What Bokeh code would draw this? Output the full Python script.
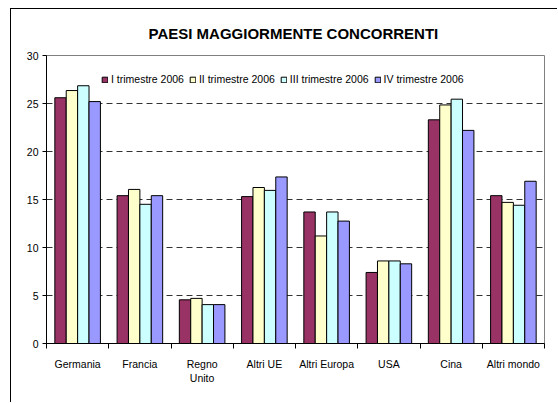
from bokeh.plotting import figure
from bokeh.models import (Range1d, LinearAxis, FixedTicker, Grid, Legend, LegendItem,
                          ColumnDataSource)
from bokeh.embed import file_html
from bokeh.resources import INLINE

categories = ["Germania", "Francia", "Regno\nUnito", "Altri UE", "Altri Europa", "USA", "Cina", "Altri mondo"]
series_names = ["I trimestre 2006", "II trimestre 2006", "III trimestre 2006", "IV trimestre 2006"]
q1 = [25.6, 15.4, 4.55, 15.3, 13.7, 7.4, 23.3, 15.4]
q2 = [26.35, 16.05, 4.7, 16.25, 11.2, 8.6, 24.85, 14.7]
q3 = [26.85, 14.5, 4.05, 15.95, 13.7, 8.6, 25.45, 14.4]
q4 = [25.2, 15.4, 4.05, 17.35, 12.75, 8.3, 22.2, 16.9]
colors = ["#993366", "#FFFFCC", "#CCFFFF", "#9999FF"]
y_ticks = [0, 5, 10, 15, 20, 25, 30]

FONT = "Liberation Sans"

p = figure(width=547, height=394, x_range=Range1d(0, len(categories)), y_range=Range1d(0, 30),
           output_backend="svg", toolbar_location=None, x_axis_location=None,
           min_border_left=35, min_border_right=14, min_border_top=46, min_border_bottom=60)
p.styles = {"margin-left": "10px", "margin-top": "8px",
            "border-left": "1px solid black", "border-top": "1px solid black"}

p.title.text = "PAESI  MAGGIORMENTE CONCORRENTI"
p.title.align = "center"
p.title.offset = -3
p.title.text_font = FONT
p.title.text_font_size = "15px"
p.title.text_font_style = "bold"
p.title.text_color = "black"
p.title.standoff = 27

p.outline_line_color = "#808080"
p.xgrid.visible = False
p.ygrid.ticker = FixedTicker(ticks=y_ticks[1:-1])
p.ygrid.grid_line_color = "#333333"
p.ygrid.grid_line_dash = "6 4"
top_grid = Grid(dimension=1, ticker=FixedTicker(ticks=[30]), grid_line_color="black")
p.add_layout(top_grid)

ya = p.yaxis[0]
ya.ticker = FixedTicker(ticks=y_ticks)
ya.major_tick_out = 4
ya.major_tick_in = 0
ya.minor_tick_line_color = None
ya.axis_line_color = "black"
ya.major_label_text_font = FONT
ya.major_label_text_font_size = "10.5px"
ya.major_label_text_color = "black"
ya.major_label_standoff = 4

n = len(categories)
bounds = list(range(n + 1))
centers = [i + 0.5 for i in range(n)]

ax1 = LinearAxis(ticker=FixedTicker(ticks=bounds), major_tick_out=5, major_tick_in=0,
                 minor_tick_line_color=None, axis_line_color="black",
                 major_label_overrides={b: "" for b in bounds},
                 major_label_text_font_size="1px", major_label_standoff=0)
ax2 = LinearAxis(ticker=FixedTicker(ticks=centers), major_tick_out=0, major_tick_in=0,
                 minor_tick_line_color=None, axis_line_color=None, major_tick_line_color=None,
                 major_label_overrides={c: lab for c, lab in zip(centers, categories)},
                 major_label_text_font=FONT, major_label_text_font_size="10.5px",
                 major_label_text_color="black", major_label_standoff=9)
p.add_layout(ax1, "below")
p.add_layout(ax2, "below")

bw = 0.183
offsets = [-1.5 * bw, -0.5 * bw, 0.5 * bw, 1.5 * bw]
items = []
for vals, col, name, off in zip([q1, q2, q3, q4], colors, series_names, offsets):
    src = ColumnDataSource(dict(x=[c + off for c in centers], top=vals))
    r = p.vbar(x="x", top="top", width=bw, bottom=0, source=src, fill_color=col,
               line_color="black", line_width=1)
    items.append(LegendItem(label=name, renderers=[r]))

legend = Legend(items=items, orientation="horizontal", location=(55, 258),
                border_line_color=None, background_fill_alpha=0, padding=0, margin=0,
                glyph_width=7, glyph_height=7, label_height=10, label_standoff=3, spacing=5,
                label_text_font=FONT, label_text_font_size="10.5px", label_text_color="black")
p.add_layout(legend, "center")

open("out.html", "w").write(file_html(p, INLINE))
